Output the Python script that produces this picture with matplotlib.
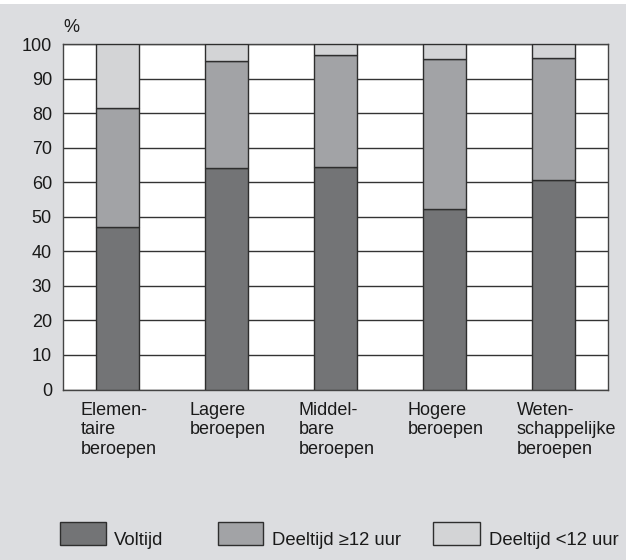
import matplotlib
matplotlib.use("Agg")
import matplotlib.pyplot as plt
from matplotlib.patches import Rectangle
import numpy as np

plt.rcParams['font.family'] = ['Liberation Sans', 'DejaVu Sans']

# data (percentages per beroepsniveau)
categories = ["Elemen-\ntaire\nberoepen", "Lagere\nberoepen", "Middel-\nbare\nberoepen",
              "Hogere\nberoepen", "Weten-\nschappelijke\nberoepen"]
voltijd = [47.1, 64.3, 64.5, 52.2, 60.6]
deeltijd_groot = [34.4, 30.9, 32.4, 43.5, 35.4]   # deeltijd >=12 uur
deeltijd_klein = [100 - v - d for v, d in zip(voltijd, deeltijd_groot)]  # rest tot 100
series_labels = ["Voltijd", "Deeltijd \u226512 uur", "Deeltijd <12 uur"]
yticks = list(range(0, 101, 10))

bg = "#dcdde0"
colors = ["#737476", "#a2a3a6", "#d3d4d6"]
edge = "#2e2e2e"

fig = plt.figure(figsize=(6.26, 5.6), dpi=100, facecolor=bg)
# thin white strip at the very top
fig.patches.append(Rectangle((0, 1 - 4 / 560), 1, 4 / 560, transform=fig.transFigure,
                             facecolor="white", edgecolor="none", zorder=0))

ax = fig.add_axes([63 / 626, 1 - 389.5 / 560, (608 - 63) / 626, (389.5 - 44.3) / 560])
ax.set_facecolor("white")

x = np.arange(len(categories))
w = 0.4
bottom = np.zeros(len(categories))
for vals, c in zip([voltijd, deeltijd_groot, deeltijd_klein], colors):
    ax.bar(x, vals, w, bottom=bottom, color=c, edgecolor=edge, linewidth=1.0, zorder=3)
    bottom += np.array(vals)

ax.set_xlim(-0.5, len(categories) - 0.5)
ax.set_ylim(0, 100)
ax.set_yticks(yticks)
ax.yaxis.grid(True, color="#333333", linewidth=1.0, zorder=0)
ax.set_axisbelow(True)
ax.tick_params(axis="y", length=0, pad=8, labelsize=13, colors="#1a1a1a")
ax.set_xticks([])
for s in ax.spines.values():
    s.set_color("#444444")
    s.set_linewidth(1.0)

# category labels, left aligned under the bars
for i, lab in enumerate(categories):
    ax.text(i - 0.34, -3.5, lab, ha="left", va="top", fontsize=13,
            color="#1a1a1a", linespacing=1.22)

fig.text(63 / 626, 1 - 32 / 560, "%", fontsize=13, color="#1a1a1a", ha="left", va="baseline")

# legend
boxes = [(60, 106), (218, 263), (433, 480)]
text_x = [114, 272, 489]
for (x0, x1), tx, c, lab in zip(boxes, text_x, colors, series_labels):
    fig.patches.append(Rectangle((x0 / 626, 1 - 545 / 560), (x1 - x0) / 626, 23 / 560,
                                 transform=fig.transFigure, facecolor=c,
                                 edgecolor=edge, linewidth=1.0))
    fig.text(tx / 626, 1 - 545 / 560, lab, fontsize=13.3, color="#1a1a1a",
             ha="left", va="baseline")

fig.savefig("out.png", dpi=100, facecolor=bg)
